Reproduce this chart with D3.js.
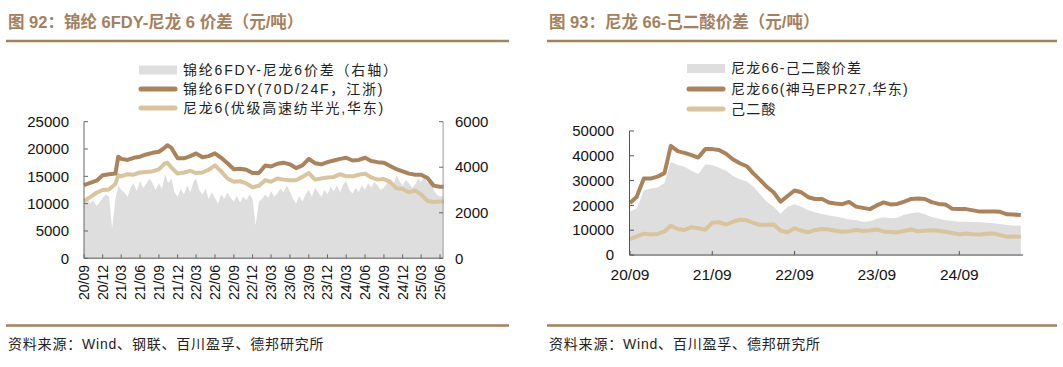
<!DOCTYPE html>
<html><head><meta charset="utf-8">
<script src="https://cdn.jsdelivr.net/npm/d3@7/dist/d3.min.js"></script>
<style>
body{margin:0;background:#fff;}
svg{display:block;font-family:"Liberation Sans",Arial,"Noto Sans CJK SC",sans-serif;}
</style></head>
<body><svg id="c" width="1063" height="367"></svg>
<script>
// ---------- Chart 1 data ----------
const c1Dates = ["2020-09-01","2020-10-01","2020-11-01","2020-12-01","2021-01-01","2021-02-01","2021-02-15","2021-03-01","2021-04-01","2021-05-01","2021-06-01","2021-07-01","2021-08-01","2021-09-01","2021-10-01","2021-10-12","2021-11-01","2021-12-01","2022-01-01","2022-02-01","2022-03-01","2022-04-01","2022-05-01","2022-06-01","2022-07-01","2022-08-01","2022-09-01","2022-10-01","2022-11-01","2022-12-01","2023-01-01","2023-02-01","2023-03-01","2023-04-01","2023-05-01","2023-06-01","2023-07-01","2023-08-01","2023-09-01","2023-10-01","2023-11-01","2023-12-01","2024-01-01","2024-02-01","2024-03-01","2024-04-01","2024-05-01","2024-06-01","2024-07-01","2024-08-01","2024-09-01","2024-10-01","2024-11-01","2024-12-01","2025-01-01","2025-02-01","2025-03-01","2025-04-01","2025-05-01","2025-06-01","2025-06-20"];
const fdy = [13400,13800,14200,15200,15400,15500,18600,18200,18000,18400,18600,19000,19300,19500,20300,20700,20200,18300,18300,18700,19200,18500,18700,19200,18400,17400,16300,16400,16200,15600,15600,17000,16800,17300,17500,17200,16500,17000,18200,17400,17200,17600,17900,18200,18400,17900,18000,18400,17800,17600,17500,16900,16300,15900,15500,15300,15300,14700,13300,13100,13100];
const pa6 = [10500,11200,12000,12500,12600,13600,15200,15000,15400,15300,15700,15800,15900,16300,17400,17500,16600,15500,15700,16000,15600,15700,16200,17000,15900,14600,14000,14100,13700,13000,13300,14300,14000,14600,14400,14300,14300,14900,15600,14400,14600,14800,14900,15400,15000,15000,15300,15500,14800,14400,14500,14000,12800,12700,12100,12400,11700,10500,10300,10400,10400];
const spreadMonths = ["2020-09","2020-10","2020-11","2020-12","2021-01","2021-02","2021-03","2021-04","2021-05","2021-06","2021-07","2021-08","2021-09","2021-10","2021-11","2021-12","2022-01","2022-02","2022-03","2022-04","2022-05","2022-06","2022-07","2022-08","2022-09","2022-10","2022-11","2022-12","2023-01","2023-02","2023-03","2023-04","2023-05","2023-06","2023-07","2023-08","2023-09","2023-10","2023-11","2023-12","2024-01","2024-02","2024-03","2024-04","2024-05","2024-06","2024-07","2024-08","2024-09","2024-10","2024-11","2024-12","2025-01","2025-02","2025-03","2025-04","2025-05","2025-06"];
// two readings per month: [1st half, 2nd half]
const spread1 = [[2500,2650],[2400,2550],[2300,2450],[2650,2800],[2700,1300],[2600,3200],[3000,2900],[2700,3100],[3300,2950],[3400,3100],[3250,3500],[3300,3000],[3300,3050],[3700,3300],[3500,2900],[2700,3050],[2800,3200],[2900,3350],[3500,3000],[2800,3050],[2600,2900],[2650,2400],[2800,2600],[2900,2650],[2500,2750],[2450,2700],[2550,2800],[2600,1450],[2500,2600],[2800,2650],[2950,2700],[2850,3050],[2900,3200],[2950,2600],[2400,2750],[2500,2800],[3000,2700],[3100,2900],[2700,3000],[2800,3150],[2950,3200],[2900,3250],[3400,3000],[2850,3100],[2900,3200],[3000,3300],[3100,3350],[3200,3000],[3100,3300],[3500,3200],[3650,3400],[3200,3450],[3300,3100],[3250,3500],[3350,3600],[3300,3450],[3000,2800],[2700,2750]];
const c1XTicks = ["20/09","20/12","21/03","21/06","21/09","21/12","22/03","22/06","22/09","22/12","23/03","23/06","23/09","23/12","24/03","24/06","24/09","24/12","25/03","25/06"];
const c1LeftTicks = [0,5000,10000,15000,20000,25000];
const c1RightTicks = [0,2000,4000,6000];
const c1Legend = ["锦纶6FDY-尼龙6价差（右轴）","锦纶6FDY(70D/24F，江浙)","尼龙6(优级高速纺半光,华东)"];

// ---------- Chart 2 data ----------
const c2Months = ["2020-09","2020-10","2020-11","2020-12","2021-01","2021-02","2021-03","2021-04","2021-05","2021-06","2021-07","2021-08","2021-09","2021-10","2021-11","2021-12","2022-01","2022-02","2022-03","2022-04","2022-05","2022-06","2022-07","2022-08","2022-09","2022-10","2022-11","2022-12","2023-01","2023-02","2023-03","2023-04","2023-05","2023-06","2023-07","2023-08","2023-09","2023-10","2023-11","2023-12","2024-01","2024-02","2024-03","2024-04","2024-05","2024-06","2024-07","2024-08","2024-09","2024-10","2024-11","2024-12","2025-01","2025-02","2025-03","2025-04","2025-05","2025-06"];
const pa66 = [21000,23500,30800,30800,31600,33000,44000,41900,41200,40300,39300,42700,42700,42300,40800,38600,37000,35800,33000,30300,27500,25200,21500,23800,26000,25300,23300,22600,22600,21200,20800,20500,21400,19500,19000,18500,20000,21200,20400,20600,21500,22600,22800,22600,21300,20600,20400,18600,18500,18500,18000,17500,17500,17500,17400,16400,16300,16100];
const adipic = [6400,7500,8600,8300,8500,9500,11800,10500,10100,11200,10800,10200,13000,13200,12300,13400,14200,14000,13000,12100,12200,12300,9800,9200,10800,9800,9200,10000,10500,10300,9800,9400,9600,10100,9700,9900,10300,9500,9300,9100,9800,10300,9600,9800,10000,9800,9400,8900,8300,8700,8400,8300,8600,8700,8000,7400,7500,7400];
const spread2 = [17500,18700,26000,26800,27200,29000,37500,36300,35600,34000,32700,36500,36300,35200,34000,32000,30500,29600,27700,24500,21500,19500,16500,19500,20500,19500,18000,17200,16500,15900,15500,15000,14300,14000,13400,13600,14600,15200,14800,15000,16200,16800,17200,16400,15300,14600,14000,13700,13400,13400,13300,13200,13000,12800,12500,12100,11900,11800];
const c2XTicks = ["20/09","21/09","22/09","23/09","24/09"];
const c2YTicks = [0,10000,20000,30000,40000,50000];
const c2Legend = ["尼龙66-己二酸价差","尼龙66(神马EPR27,华东)","己二酸"];

// ---------- styles ----------
const DARK = "#ab835a", LIGHT = "#d9c49c", GRAY = "#dedede", BROWN = "#a4805d";
const svg = d3.select("#c");
const pd = d3.timeParse("%Y-%m-%d");
const pm = d3.timeParse("%Y-%m");
const pt = s => new Date(2000 + +s.slice(0,2), +s.slice(3) - 1, 1);

function frame(x0, x1, title, source) {
  svg.append("text").attr("x", x0 + 2).attr("y", 28).attr("fill", BROWN)
    .attr("font-size", 16.5).attr("font-weight", "bold").text(title);
  svg.append("line").attr("x1", x0).attr("x2", x1).attr("y1", 41).attr("y2", 41)
    .attr("stroke", BROWN).attr("stroke-width", 2.5);
  svg.append("line").attr("x1", x0).attr("x2", x1).attr("y1", 325.5).attr("y2", 325.5)
    .attr("stroke", BROWN).attr("stroke-width", 2.5);
  svg.append("text").attr("x", x0 + 2).attr("y", 349).attr("fill", "#222")
    .attr("font-size", 14).attr("letter-spacing", 0.8).text(source);
}
function legend(x, ys, labels, ls) {
  const g = svg.append("g");
  g.append("rect").attr("x", x).attr("y", ys[0] - 4.5).attr("width", 38).attr("height", 9).attr("fill", GRAY);
  g.append("line").attr("x1", x + 2).attr("x2", x + 36).attr("y1", ys[1]).attr("y2", ys[1])
    .attr("stroke", DARK).attr("stroke-width", 5).attr("stroke-linecap", "round");
  g.append("line").attr("x1", x + 2).attr("x2", x + 36).attr("y1", ys[2]).attr("y2", ys[2])
    .attr("stroke", LIGHT).attr("stroke-width", 5).attr("stroke-linecap", "round");
  labels.forEach((t, i) => g.append("text").attr("x", x + 44).attr("y", ys[i]).attr("dy", "0.35em")
    .attr("font-size", 14).attr("letter-spacing", ls).attr("fill", "#222").text(t));
}

// ================= Chart 1 =================
frame(6, 509, "图 92：锦纶 6FDY-尼龙 6 价差（元/吨）", "资料来源：Wind、钢联、百川盈孚、德邦研究所");
legend(139, [70, 89, 108], c1Legend, 1.8);
{
  const x = d3.scaleTime().domain([pt("20/09"), pt("25/06")]).range([84, 440]);
  const xEnd = x(pd("2025-06-16"));
  const yL = d3.scaleLinear().domain([0, 25000]).range([258.3, 121.7]);
  const yR = d3.scaleLinear().domain([0, 6000]).range([258.3, 121.7]);
  const sp = [];
  spreadMonths.forEach((m, i) => {
    const d = pm(m);
    sp.push({d: d, v: spread1[i][0]});
    sp.push({d: d3.timeDay.offset(d, 15), v: spread1[i][1]});
  });
  svg.append("path").datum(sp).attr("fill", GRAY)
    .attr("d", d3.area().x(p => x(p.d)).y0(yR(0)).y1(p => yR(p.v)));
  const pts = c1Dates.map((d, i) => ({d: pd(d), a: fdy[i], b: pa6[i]}));
  svg.append("path").datum(pts).attr("fill", "none").attr("stroke", LIGHT).attr("stroke-width", 4)
    .attr("stroke-linejoin", "round").attr("d", d3.line().x(p => x(p.d)).y(p => yL(p.b)));
  svg.append("path").datum(pts).attr("fill", "none").attr("stroke", DARK).attr("stroke-width", 4)
    .attr("stroke-linejoin", "round").attr("d", d3.line().x(p => x(p.d)).y(p => yL(p.a)));

  // axes
  const ax = svg.append("g").attr("stroke", "#666");
  ax.append("line").attr("x1", 84).attr("x2", 84).attr("y1", yL(25000)).attr("y2", yL(0));
  ax.append("line").attr("x1", xEnd).attr("x2", xEnd).attr("y1", yR(6000)).attr("y2", yR(0)).attr("stroke", "#999");
  ax.append("line").attr("x1", 84).attr("x2", xEnd).attr("y1", yL(0)).attr("y2", yL(0)).attr("stroke", "#888").attr("stroke-width", 1.5);
  c1LeftTicks.forEach(v => {
    ax.append("line").attr("x1", 84).attr("x2", 88).attr("y1", yL(v)).attr("y2", yL(v));
    svg.append("text").attr("x", 69).attr("y", yL(v)).attr("dy", "0.35em").attr("text-anchor", "end")
      .attr("font-size", 15).attr("fill", "#111").text(v);
  });
  c1RightTicks.forEach(v => {
    ax.append("line").attr("x1", xEnd - 4).attr("x2", xEnd).attr("y1", yR(v)).attr("y2", yR(v));
    svg.append("text").attr("x", 455).attr("y", yR(v)).attr("dy", "0.35em").attr("text-anchor", "start")
      .attr("font-size", 15).attr("fill", "#111").text(v);
  });
  c1XTicks.forEach(t => {
    const X = x(pt(t));
    ax.append("line").attr("x1", X).attr("x2", X).attr("y1", yL(0)).attr("y2", yL(0) - 4);
    svg.append("text").attr("transform", `translate(${X},265) rotate(-90)`).attr("dy", "0.35em")
      .attr("text-anchor", "end").attr("font-size", 14).attr("fill", "#111").text(t);
  });
}

// ================= Chart 2 =================
frame(547, 1057, "图 93：尼龙 66-己二酸价差（元/吨）", "资料来源：Wind、百川盈孚、德邦研究所");
legend(687, [68.5, 89, 109], c2Legend, 1.3);
{
  const x = d3.scaleTime().domain([pt("20/09"), pt("24/09")]).range([630, 959.3]);
  const y = d3.scaleLinear().domain([0, 50000]).range([255, 131]);
  const pts = c2Months.map((m, i) => ({d: pm(m), a: pa66[i], b: adipic[i], s: spread2[i]}));
  const xEnd = x(pts[pts.length - 1].d) + 2;
  svg.append("path").datum(pts).attr("fill", GRAY)
    .attr("d", d3.area().x(p => x(p.d)).y0(y(0)).y1(p => y(p.s)));
  svg.append("path").datum(pts).attr("fill", "none").attr("stroke", LIGHT).attr("stroke-width", 4)
    .attr("stroke-linejoin", "round").attr("d", d3.line().x(p => x(p.d)).y(p => y(p.b)));
  svg.append("path").datum(pts).attr("fill", "none").attr("stroke", DARK).attr("stroke-width", 4)
    .attr("stroke-linejoin", "round").attr("d", d3.line().x(p => x(p.d)).y(p => y(p.a)));
  const ax = svg.append("g").attr("stroke", "#555");
  ax.append("line").attr("x1", 629.5).attr("x2", 629.5).attr("y1", y(50000)).attr("y2", y(0));
  ax.append("line").attr("x1", 629.5).attr("x2", xEnd).attr("y1", y(0)).attr("y2", y(0)).attr("stroke", "#999").attr("stroke-width", 2);
  c2YTicks.forEach(v => {
    ax.append("line").attr("x1", 629.5).attr("x2", 634).attr("y1", y(v)).attr("y2", y(v));
    svg.append("text").attr("x", 614).attr("y", y(v)).attr("dy", "0.35em").attr("text-anchor", "end")
      .attr("font-size", 15).attr("fill", "#111").text(v);
  });
  c2XTicks.forEach(t => {
    const X = x(pt(t));
    ax.append("line").attr("x1", X).attr("x2", X).attr("y1", y(0)).attr("y2", y(0) - 4);
    svg.append("text").attr("x", X).attr("y", 280).attr("text-anchor", "middle")
      .attr("font-size", 15.5).attr("fill", "#111").text(t);
  });
}
</script></body></html>
